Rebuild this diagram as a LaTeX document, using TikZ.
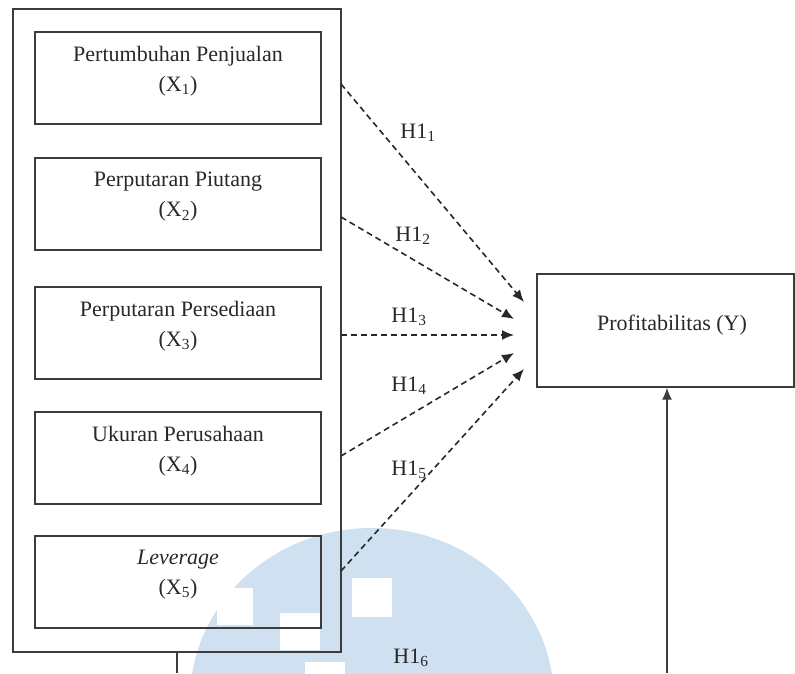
\documentclass[tikz,border=0pt]{standalone}
\usepackage{fontspec}
\setmainfont{Liberation Serif}
\usetikzlibrary{arrows.meta}
\definecolor{wm}{RGB}{207,224,240}
\definecolor{ln}{RGB}{60,60,60}
\definecolor{tx}{RGB}{40,40,40}
\begin{document}
\begin{tikzpicture}[x=1pt,y=-1pt,
  every node/.style={font=\fontsize{22}{30}\selectfont, text=tx},
  frame/.style={draw=ln, line width=1.4pt, inner sep=0pt},
  varbox/.style={frame, minimum width=286pt, minimum height=92pt},
  boxtext/.style={align=center, inner sep=0pt, yshift=7pt},
  hyp/.style={draw=tx, line width=1.6pt, dash pattern=on 6pt off 4pt, -{Latex[length=12pt,width=10pt]}},
  solidarrow/.style={draw=ln, line width=1.4pt, -{Latex[length=12pt,width=10pt]}},
  hlab/.style={inner sep=0pt}]
\useasboundingbox (0,0) rectangle (795,673);
% watermark
\begin{scope}
  \clip (0,0) rectangle (795,673);
  \fill[wm] (372,700) ellipse [x radius=182pt, y radius=172pt];
  \fill[white] (217,588) rectangle (253,625);
  \fill[white] (280,613) rectangle (320,650);
  \fill[white] (305,662) rectangle (345,680);
  \fill[white] (352,578) rectangle (392,617);
\end{scope}
% outer frame
\node[frame, minimum width=328pt, minimum height=643pt] (outer) at (177,330.5) {};
% variable boxes
\node[varbox, label={[name=t1, boxtext]center:Pertumbuhan Penjualan\\(X\textsubscript{1})}] (x1) at (178,78) {};
\node[varbox, label={[name=t2, boxtext]center:Perputaran Piutang\\(X\textsubscript{2})}] (x2) at (178,204) {};
\node[varbox, label={[name=t3, boxtext]center:Perputaran Persediaan\\(X\textsubscript{3})}] (x3) at (178,333) {};
\node[varbox, label={[name=t4, boxtext]center:Ukuran Perusahaan\\(X\textsubscript{4})}] (x4) at (178,458) {};
\node[varbox, label={[name=t5, boxtext]center:\textit{Leverage}\\(X\textsubscript{5})}] (x5) at (178,582) {};
% dependent
\node[frame, minimum width=257pt, minimum height=113pt] (y) at (665.5,330.5) {};
\node[inner sep=0pt] (ytext) at (672,325) {Profitabilitas (Y)};
% connector ends
\coordinate (s1) at (341,84);
\coordinate (s2) at (341,217);
\coordinate (s3) at (341,335);
\coordinate (s4) at (341,456);
\coordinate (s5) at (341,571);
\coordinate (e1) at (524,302);
\coordinate (e2) at (514,319);
\coordinate (e3) at (514,335);
\coordinate (e4) at (514,353);
\coordinate (e5) at (524,369);
\draw[hyp] (s1) -- (e1);
\draw[hyp] (s2) -- (e2);
\draw[hyp] (s3) -- (e3);
\draw[hyp] (s4) -- (e4);
\draw[hyp] (s5) -- (e5);
% labels
\node[hlab] (h1) at (418,133) {H1\textsubscript{1}};
\node[hlab] (h2) at (413,236) {H1\textsubscript{2}};
\node[hlab] (h3) at (409,317) {H1\textsubscript{3}};
\node[hlab] (h4) at (409,386) {H1\textsubscript{4}};
\node[hlab] (h5) at (409,470) {H1\textsubscript{5}};
\node[hlab] (h6) at (411,658) {H1\textsubscript{6}};
% bottom connector
\coordinate (b1) at (177,673);
\coordinate (b2) at (667,673);
\draw[draw=ln, line width=1.4pt] (outer.south) -- (b1);
\draw[solidarrow] (b2) -- (b2 |- y.south);
\end{tikzpicture}
\end{document}
